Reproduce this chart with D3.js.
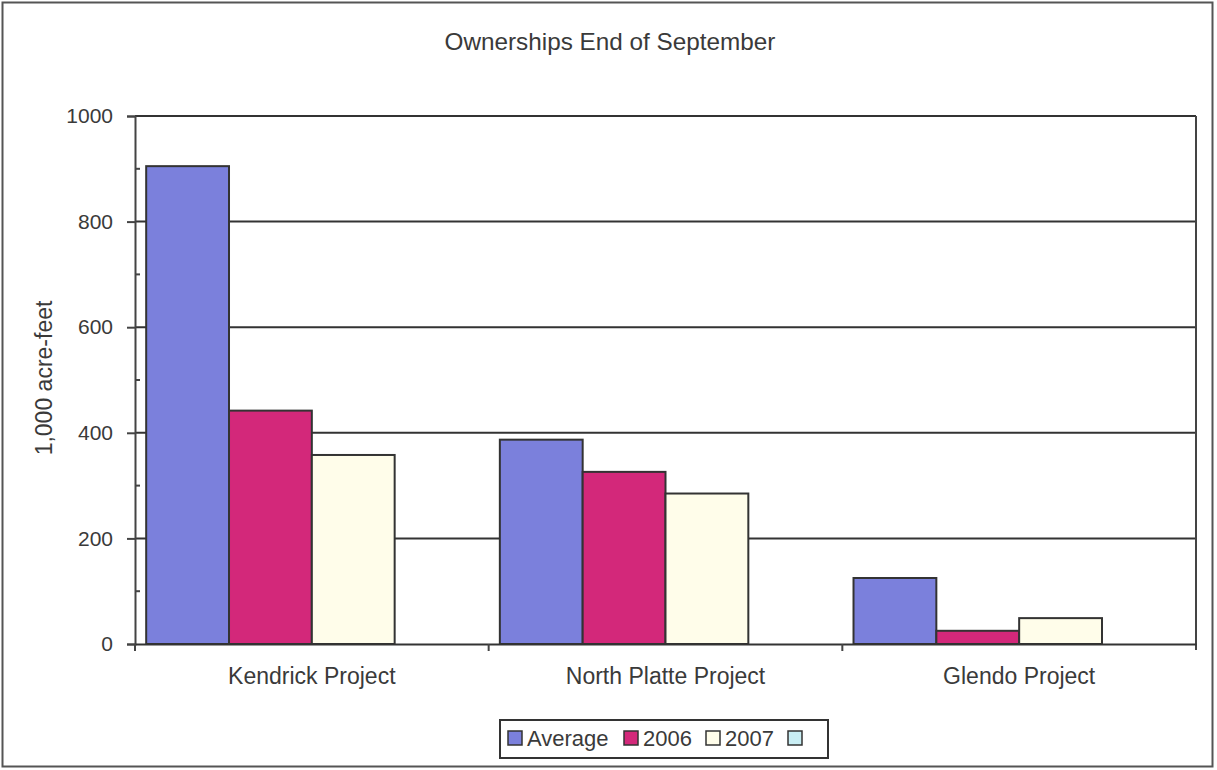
<!DOCTYPE html>
<html>
<head>
<meta charset="utf-8">
<script src="https://cdn.jsdelivr.net/npm/d3@7"></script>
<style>
  body { margin: 0; background: #fff; }
  svg text { font-family: 'Liberation Sans', Arial, sans-serif; fill: #3a3a3a; }
</style>
</head>
<body>
<svg id="chart"></svg>
<script>
// data
const projects = ['Kendrick Project', 'North Platte Project', 'Glendo Project']
const seriesNames = ['Average', '2006', '2007', '']
const average = [905, 387, 125]
const y2006 = [442, 326, 25]
const y2007 = [358, 285, 49]
const blank = [null, null, null]   // the 4th (empty) series in the legend
const yTicks = [0, 200, 400, 600, 800, 1000]

const colors = ['#7b80dc', '#d3287a', '#fffdea', '#c9eef4']
const seriesValues = [average, y2006, y2007, blank]

let w = 1217
let h = 770
let margin = {left: 135, right: 21, top: 116, bottom: 126}

let svg = d3.select('#chart')
    .attr('width', w)
    .attr('height', h)

// outer frame
svg.append('rect')
    .attr('x', 2.5).attr('y', 2.5)
    .attr('width', 1210).attr('height', 764)
    .attr('fill', 'white')
    .attr('stroke', '#555')
    .attr('stroke-width', 2)

svg.append('text')
    .attr('x', 610).attr('y', 50)
    .attr('text-anchor', 'middle')
    .attr('font-size', 24.3)
    .text('Ownerships End of September')

let x0 = d3.scaleBand(projects, [margin.left, w - margin.right])
let x1 = d3.scaleBand(seriesNames, [0, x0.bandwidth()]).paddingOuter(0.135).paddingInner(0)
let y = d3.scaleLinear([0, 1000], [h - margin.bottom, margin.top])

// gridlines
svg.append('g')
    .selectAll('line')
    .data(yTicks.slice(1))
    .enter().append('line')
        .attr('x1', margin.left).attr('x2', w - margin.right)
        .attr('y1', d => y(d)).attr('y2', d => y(d))
        .attr('stroke', '#333')
        .attr('stroke-width', 2)

// plot frame right side
svg.append('line')
    .attr('x1', w - margin.right).attr('x2', w - margin.right)
    .attr('y1', margin.top).attr('y2', y(0) + 6)
    .attr('stroke', '#444').attr('stroke-width', 2)

// bars
let groups = svg.append('g')
    .selectAll('g')
    .data(projects)
    .enter().append('g')
        .attr('transform', d => `translate(${x0(d)},0)`)

groups.selectAll('rect')
    .data((d, i) => seriesValues.map((s, k) => ({name: seriesNames[k], value: s[i], k: k})))
    .enter().filter(d => d.value != null).append('rect')
        .attr('x', d => x1(d.name))
        .attr('width', x1.bandwidth())
        .attr('y', d => y(d.value))
        .attr('height', d => y(0) - y(d.value))
        .attr('fill', d => colors[d.k])
        .attr('stroke', '#333')
        .attr('stroke-width', 2)

// y axis
let yAxis = svg.append('g')
    .attr('transform', `translate(${margin.left},0)`)
    .call(d3.axisLeft(y).tickValues(yTicks).tickFormat(d3.format('d')).tickSize(8).tickPadding(14))
yAxis.select('.domain').attr('stroke', '#444').attr('stroke-width', 2)
yAxis.selectAll('.tick line').attr('stroke', '#444').attr('stroke-width', 2)
yAxis.selectAll('text').attr('font-size', 21).attr('fill', '#3a3a3a').attr('font-family', 'Liberation Sans, Arial, sans-serif')

// minor ticks inside
svg.append('g')
    .selectAll('line')
    .data(d3.range(100, 1000, 200))
    .enter().append('line')
        .attr('x1', margin.left).attr('x2', margin.left + 5)
        .attr('y1', d => y(d)).attr('y2', d => y(d))
        .attr('stroke', '#444').attr('stroke-width', 2)

// x axis
let xAxis = svg.append('g')
    .attr('transform', `translate(0,${y(0)})`)
    .call(d3.axisBottom(x0).tickSize(0).tickPadding(24))
xAxis.select('.domain').attr('stroke', '#333').attr('stroke-width', 2)
xAxis.selectAll('text').attr('font-size', 23).attr('fill', '#3a3a3a').attr('font-family', 'Liberation Sans, Arial, sans-serif')

// category dividers
svg.append('g')
    .selectAll('line')
    .data(projects)
    .enter().append('line')
        .attr('x1', d => x0(d)).attr('x2', d => x0(d))
        .attr('y1', y(0)).attr('y2', y(0) + 7)
        .attr('stroke', '#444').attr('stroke-width', 2)

svg.append('text')
    .attr('transform', 'translate(52,378) rotate(-90)')
    .attr('text-anchor', 'middle')
    .attr('font-size', 23)
    .text('1,000 acre-feet')

// legend
let legend = svg.append('g')
legend.append('rect')
    .attr('x', 500).attr('y', 720)
    .attr('width', 328).attr('height', 38)
    .attr('fill', 'white')
    .attr('stroke', '#333')
    .attr('stroke-width', 2)

let lx = [508, 624, 706, 788]
let item = legend.selectAll('g')
    .data(seriesNames)
    .enter().append('g')
        .attr('transform', (d, i) => `translate(${lx[i]},731)`)
item.append('rect')
    .attr('width', 14).attr('height', 14)
    .attr('fill', (d, i) => colors[i])
    .attr('stroke', '#333').attr('stroke-width', 1.5)
item.append('text')
    .attr('x', 19).attr('y', 15)
    .attr('font-size', 22)
    .text(d => d)
</script>
</body>
</html>
